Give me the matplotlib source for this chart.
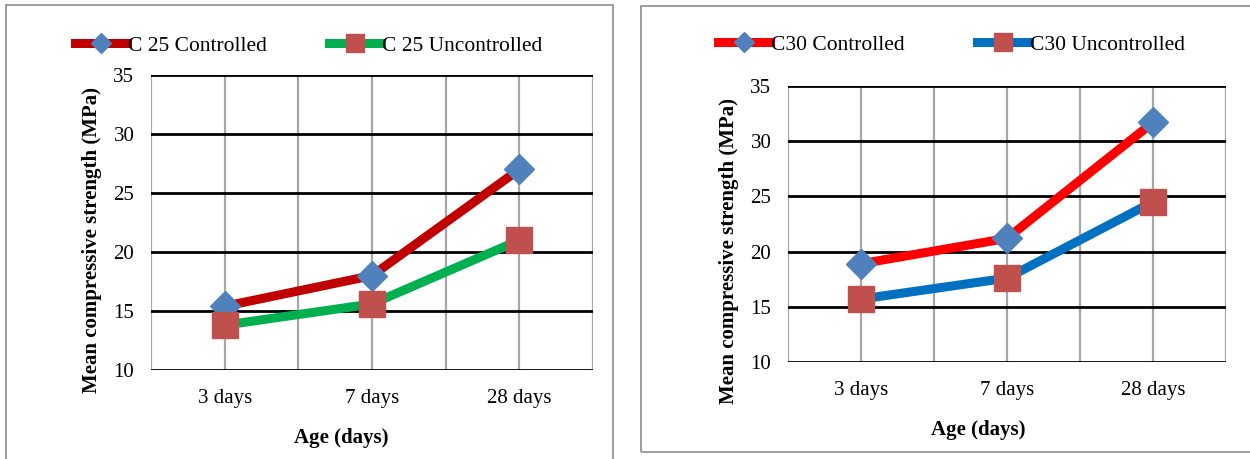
# -*- coding: utf-8 -*-
# plot.py - compressive strength vs age, C25 and C30 side by side

import matplotlib
matplotlib.use("Agg")
import matplotlib.pyplot as plt
from matplotlib.patches import Rectangle

ages = ["3 days", "7 days", "28 days"]

c25_controlled = [15.4, 18.0, 27.0]
c25_uncontrolled = [13.8, 15.6, 21.0]
c30_controlled = [18.9, 21.2, 31.7]
c30_uncontrolled = [15.7, 17.6, 24.5]

yticks = [10, 15, 20, 25, 30, 35]

plt.rcParams['font.family'] = ['Liberation Serif', 'DejaVu Serif']


def draw_panel(ax, ctrl, unctrl, labels, colors, ylab_xy, xlab_xy):
    x = [i + 0.5 for i in range(len(ages))]
    ax.plot(x, ctrl, color=colors[0], lw=6.5, marker='D', ms=15,
            mfc='#4F81BD', mec='#4F81BD', label=labels[0], zorder=3)
    ax.plot(x, unctrl, color=colors[1], lw=6.5, marker='s', ms=19,
            mfc='#C0504D', mec='#C0504D', label=labels[1], zorder=3)
    ax.set_xlim(0, 3)
    ax.set_ylim(10, 35)
    # vertical gray grid every half category
    for v in [0, 0.5, 1, 1.5, 2, 2.5, 3]:
        ax.axvline(v, color='#A6A6A6', lw=1.6, zorder=1)
    for h in yticks:
        ax.axhline(h, color='black', lw=2, zorder=2)
    ax.set_xticks(x)
    ax.set_xticklabels(ages)
    ax.set_yticks(yticks)
    ax.tick_params(length=0, labelsize=15, pad=14)
    ax.tick_params(axis='y', pad=12)
    for s in ax.spines.values():
        s.set_visible(False)
    ax.set_ylabel("Mean compressive strength (MPa)", fontsize=15,
                  fontweight='bold', va='center')
    ax.set_xlabel("Age (days)", fontsize=15, fontweight='bold', va='center')
    ax.yaxis.set_label_coords(*ylab_xy)
    ax.xaxis.set_label_coords(*xlab_xy)


def add_legend(ax, anchor, colspace):
    ax.legend(loc='center left', bbox_to_anchor=anchor, ncol=2, frameon=False,
              fontsize=15.5, handlelength=2.4, handletextpad=0.05,
              columnspacing=colspace, borderaxespad=0, borderpad=0,
              markerscale=0.65)


fig = plt.figure(figsize=(12.5, 4.59), dpi=100)

# panel borders
fig.patches.append(Rectangle((6 / 1250, -0.05), 607 / 1250, 1.04,
                             transform=fig.transFigure, fill=False,
                             ec='#8C8C8C', lw=1.2))
fig.patches.append(Rectangle((641 / 1250, 1 - 452 / 459), 0.6, 446 / 459,
                             transform=fig.transFigure, fill=False,
                             ec='#8C8C8C', lw=1.2))

ax1 = fig.add_axes([151 / 1250, 1 - 370 / 459, 442 / 1250, 295 / 459])
draw_panel(ax1, c25_controlled, c25_uncontrolled,
           ["C 25 Controlled", "C 25 Uncontrolled"], ['#C00000', '#00B050'],
           (-0.133, 0.441), (0.43, -0.23))
add_legend(ax1, (-0.172, 1.1), 2.9)

ax2 = fig.add_axes([788 / 1250, 1 - 362 / 459, 438 / 1250, 276 / 459])
draw_panel(ax2, c30_controlled, c30_uncontrolled,
           ["C30 Controlled", "C30 Uncontrolled"], ['#FF0000', '#0070C0'],
           (-0.135, 0.402), (0.434, -0.246))
add_legend(ax2, (-0.16, 1.15), 3.4)

plt.savefig("out.png", dpi=100)
plt.close()
